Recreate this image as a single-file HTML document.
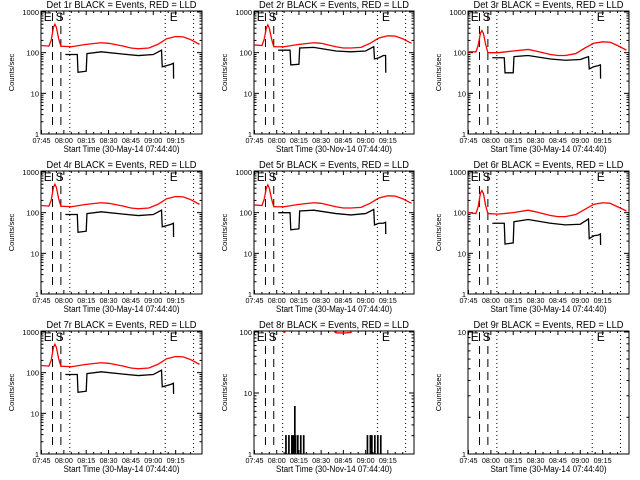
<!DOCTYPE html>
<html><head><meta charset="utf-8"><style>
html,body{margin:0;padding:0;background:#fff;width:640px;height:480px;overflow:hidden}
svg{display:block;font-family:"Liberation Sans",sans-serif}
</style></head><body>
<svg id="c" width="640" height="480" viewBox="0 0 640 480"></svg>
<script>
const NS="http://www.w3.org/2000/svg";
const svg=document.getElementById('c');
// data (t = minutes after 07:45)
const redT=[-0.3,5,6.5,8,9,10,11.5,13,20,30,40,45,55,60,65,72,78,84,90,95,100,106];
const red1=[150,145,200,420,500,420,220,145,140,160,175,170,145,130,125,130,160,220,250,245,210,160];
const red2=[155,150,210,400,480,400,220,140,140,160,175,170,140,130,130,135,170,230,260,255,220,170];
const red3=[105,105,150,300,350,300,160,100,100,110,120,110,90,85,85,95,130,170,185,180,150,115];
const red6=[100,95,140,300,350,300,150,95,92,100,115,105,85,80,80,90,120,160,175,170,140,110];
const red8=[150,150,150,150,150,150,150,150,98,150,150,150,97,96,98,150,150,150,150,150,150,150];
const blkT=[16,24,24.5,30,30.5,40,55,65,75,80.5,81,84,87,88.5,88.6];
const blk1=[90,90,33,35,95,105,92,85,90,115,45,48,52,55,23];
const blk2=[115,115,50,52,130,135,110,105,110,140,70,75,85,85,32];
const blk3=[75,75,32,32,80,85,70,65,68,80,40,45,48,50,23];
const blk4=[90,90,33,35,95,105,92,85,90,115,45,48,52,55,25];
const blk5=[100,100,38,40,110,115,95,88,95,120,50,55,55,58,30];
const blk6=[55,55,17,18,60,68,55,50,52,70,23,27,28,30,16];
const blk7=[90,90,33,35,95,105,92,85,90,115,45,48,52,55,30];
const cntT=[20,21,22,23,24,25,26,27,27.5,28,29,30,31,32,33,75,76,77,78,79,80,81,82,83,84,85,86];
const cnt8=[1,2,1,2,1,2,2,6,2,1,2,1,2,1,2,1,2,1,2,2,1,2,1,2,1,2,1];
const tickLabels=["07:45","08:00","08:15","08:30","08:45","09:00","09:15"];
const dashT=[7.4,13], dotT=[19,83,102];

const panels=[
 {n:1,col:0,row:0,max:1000,red:red1,blk:blk1,d:"30-May-14"},
 {n:2,col:1,row:0,max:1000,red:red2,blk:blk2,d:"30-Nov-14"},
 {n:3,col:2,row:0,max:1000,red:red3,blk:blk3,d:"30-May-14"},
 {n:4,col:0,row:1,max:1000,red:red1,blk:blk4,d:"30-May-14"},
 {n:5,col:1,row:1,max:1000,red:red2,blk:blk5,d:"30-May-14"},
 {n:6,col:2,row:1,max:1000,red:red6,blk:blk6,d:"30-May-14"},
 {n:7,col:0,row:2,max:1000,red:red1,blk:blk7,d:"30-May-14"},
 {n:8,col:1,row:2,max:100,red:red8,cnt:cnt8,d:"30-Nov-14"},
 {n:9,col:2,row:2,max:10,d:"30-May-14"}
];
const lefts=[41,254,468], rights=[202,414,629];
function el(tag,attrs,parent){const e=document.createElementNS(NS,tag);for(const k in attrs)e.setAttribute(k,attrs[k]);(parent||svg).appendChild(e);return e;}
panels.forEach(p=>{
 const g=el('g',{});
 
 
 const L=lefts[p.col],R=rights[p.col],oy=p.row*160,T=11+oy,B=134+oy;
 const W=R-L;
 const xs=t=>L+(t+0.33)*(W/108);
 const lmax=Math.log10(p.max);
 const ys=v=>T+1+(lmax-Math.log10(v))/lmax*(B-T-1);
 const box=el('rect',{x:L,y:T,width:W,height:B-T,fill:'none',stroke:'#000','stroke-width':1},g);
 
 
 const cx=(L+R)/2;
 const ti=el('text',{x:cx,y:T-3,'font-size':10,'text-anchor':'middle',textLength:150,lengthAdjust:'spacingAndGlyphs'},g);ti.textContent='Det '+p.n+'r BLACK = Events, RED = LLD';
 
 
 for(let d=0;d<=lmax;d++){
  const v=Math.pow(10,d),y=ys(v);
  el('line',{x1:L,x2:L+5,y1:y,y2:y,stroke:'#000'},g);
  el('line',{x1:R-5,x2:R,y1:y,y2:y,stroke:'#000'},g);
  const tl=el('text',{x:L-2,y:y+3,'font-size':7.5,'text-anchor':'end'},g);tl.textContent=String(v);
  
  
  if(d<lmax)for(let m=2;m<10;m++){const ym=ys(v*m);el('line',{x1:L,x2:L+2.5,y1:ym,y2:ym,stroke:'#000'},g);el('line',{x1:R-2.5,x2:R,y1:ym,y2:ym,stroke:'#000'},g);}
 }
 const yl=el('text',{x:0,y:0,'font-size':7.5,'text-anchor':'middle',transform:`translate(${L-27},${(T+B)/2}) rotate(-90)`},g);yl.textContent='Counts/sec';
 
 
 tickLabels.forEach((s,i)=>{const x=xs(i*15);
  el('line',{x1:x,x2:x,y1:B,y2:B-4,stroke:'#000'},g);el('line',{x1:x,x2:x,y1:T,y2:T+4,stroke:'#000'},g);
  for(let m=1;m<3;m++){const xm=xs(i*15+m*5);if(xm<R){el('line',{x1:xm,x2:xm,y1:B,y2:B-2,stroke:'#000'},g);el('line',{x1:xm,x2:xm,y1:T,y2:T+2,stroke:'#000'},g);}}
  const tl=el('text',{x:x,y:B+9,'font-size':7.5,'text-anchor':'middle',textLength:18,lengthAdjust:'spacingAndGlyphs'},g);tl.textContent=s;
  
  });
 const xl=el('text',{x:cx,y:B+18,'font-size':9,'text-anchor':'middle',textLength:116,lengthAdjust:'spacingAndGlyphs'},g);xl.textContent='Start Time ('+p.d+' 07:44:40)';
 
 
 dashT.forEach(t=>{const l=el('line',{x1:xs(t),x2:xs(t),y1:T+2,y2:B-6,stroke:'#000','stroke-dasharray':'8,5'},g);
  
  });
 dotT.forEach(t=>{const l=el('line',{x1:xs(t),x2:xs(t),y1:T,y2:B,stroke:'#000','stroke-dasharray':'1,3'},g);
  
  });
 [['E',1.5],['S',9.5],['E',86]].forEach(a=>{const t=el('text',{x:xs(a[1]),y:T+10,'font-size':12},g);t.textContent=a[0];
  
  });
 const clip='cp'+p.n;
 const cp=el('clipPath',{id:clip},g);el('rect',{x:L,y:T,width:W,height:B-T},cp);
 if(p.red){const pl=el('polyline',{points:redT.map((t,i)=>xs(t)+','+ys(p.red[i])).join(' '),fill:'none',stroke:'#ff0000','stroke-width':1.3,'clip-path':`url(#${clip})`},g);
  
  }
 if(p.blk){const pl=el('polyline',{points:blkT.map((t,i)=>xs(t)+','+ys(p.blk[i])).join(' '),fill:'none',stroke:'#000','stroke-width':1.3},g);
  
  }
 if(p.cnt){const pts=[];cntT.forEach((t,i)=>{pts.push(xs(t)+','+ys(1));pts.push(xs(t)+','+ys(p.cnt[i]));pts.push(xs(t)+0.7+','+ys(p.cnt[i]));pts.push(xs(t)+0.7+','+ys(1));});
  const pl=el('polyline',{points:pts.join(' '),fill:'none',stroke:'#000','stroke-width':1},g);
  
  }
});
</script>
</body></html>
